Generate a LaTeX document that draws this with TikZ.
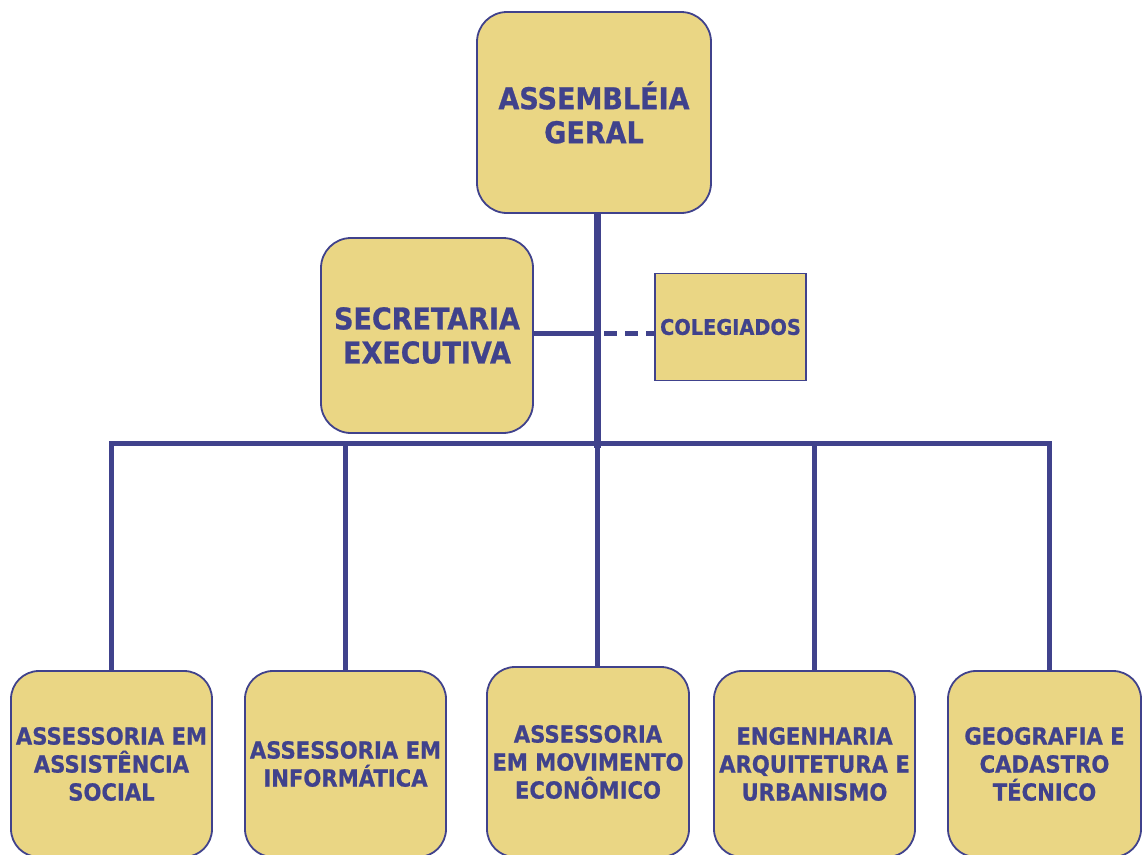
\documentclass[tikz,border=0pt]{standalone}
\usepackage{fontspec}
\newfontfamily\orgfont[FakeStretch=0.9,FakeBold=0.8]{DejaVu Sans}
\definecolor{navy}{RGB}{64,66,140}
\definecolor{sand}{RGB}{234,214,132}
\begin{document}
\begin{tikzpicture}[x=1pt,y=-1pt,
  box/.style={draw=navy,line width=1.8pt,fill=sand,rounded corners=30pt,align=center,text=navy,inner sep=0pt},
  big/.style={font=\orgfont\bfseries\fontsize{30}{34}\selectfont},
  small/.style={font=\orgfont\bfseries\fontsize{23.5}{28}\selectfont},
  conn/.style={draw=navy,line width=5pt}]
\useasboundingbox (0,0) rectangle (1142,854);
\fill[white] (0,0) rectangle (1142,854);
% top
\node[box,big,minimum width=234pt,minimum height=201pt] (ag) at (594,112.5) {ASSEMBLÉIA\\GERAL};
\node[box,big,minimum width=212pt,minimum height=195pt] (se) at (427,335.5) {SECRETARIA\\EXECUTIVA};
\node[box,rounded corners=0pt,minimum width=151pt,minimum height=107pt,font=\orgfont\bfseries\fontsize{21.5}{24}\selectfont] (co) at (730.5,327) {COLEGIADOS};
% bottom
\node[box,small,rounded corners=28pt,minimum width=201pt,minimum height=186pt] (b1) at (111.5,764) {ASSESSORIA EM\\ASSISTÊNCIA\\SOCIAL};
\node[box,small,rounded corners=28pt,minimum width=201pt,minimum height=186pt] (b2) at (345.5,764) {ASSESSORIA EM\\INFORMÁTICA};
\node[box,small,rounded corners=28pt,minimum width=202pt,minimum height=190pt] (b3) at (588,762) {ASSESSORIA\\EM MOVIMENTO\\ECONÔMICO};
\node[box,small,rounded corners=28pt,minimum width=201pt,minimum height=186pt] (b4) at (814.5,764) {ENGENHARIA\\ARQUITETURA E\\URBANISMO};
\node[box,small,rounded corners=28pt,minimum width=193pt,minimum height=186pt] (b5) at (1044.5,764) {GEOGRAFIA E\\CADASTRO\\TÉCNICO};
% connectors
\coordinate (tb) at (597,448);
\coordinate (jn) at (597,333);
\coordinate (bus) at (597,443);
\draw[conn] (se.east |- jn) -- (jn);
\draw[conn,dash pattern=on 13pt off 8pt] ([xshift=7pt]jn) -- (co.west |- jn);
\draw[conn] (b1.north) |- (bus) -| ([xshift=4.5pt]b5.north);
\draw[conn] (b2.north) -- (b2.north |- bus);
\draw[conn] (b3.north -| bus) -- (bus);
\draw[conn] (b4.north) -- (b4.north |- bus);
\draw[navy,line width=7pt] (ag.south -| tb) -- (tb);
\end{tikzpicture}
\end{document}
